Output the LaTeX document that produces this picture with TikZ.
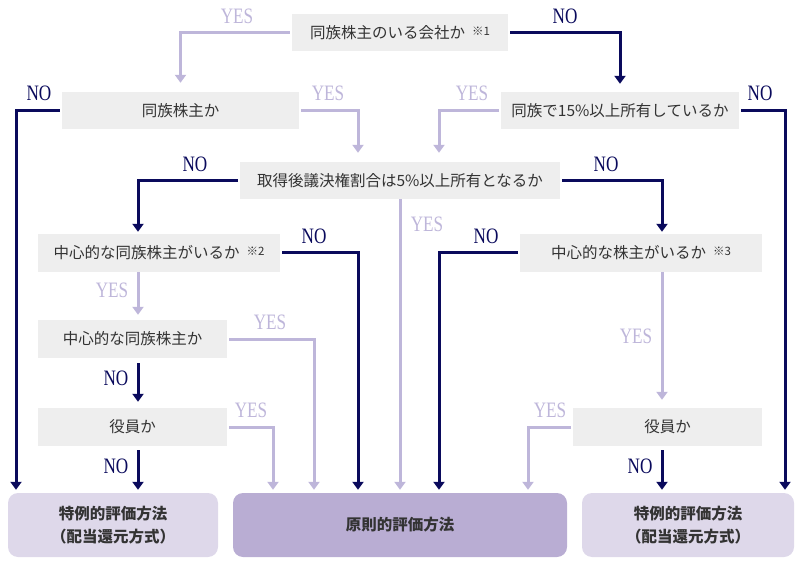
\documentclass[tikz,border=0pt]{standalone}
\usepackage{fontspec}
\usepackage{graphicx}
\setmainfont{Noto Sans CJK JP}
\newfontfamily\lblfont{Liberation Serif}
\usetikzlibrary{arrows.meta}
\definecolor{navy}{RGB}{10,10,92}
\definecolor{lav}{RGB}{190,182,218}
\definecolor{boxgray}{RGB}{238,238,238}
\definecolor{reslight}{RGB}{222,216,234}
\definecolor{resdark}{RGB}{185,173,211}
\definecolor{txt}{RGB}{51,51,51}
\newcommand{\lbltext}[1]{\scalebox{0.78}[1]{\lblfont\fontsize{22}{22}\selectfont #1}}
\tikzset{
  qbox/.style={fill=boxgray, text=txt, font=\fontsize{15.5}{18}\selectfont, inner sep=0pt, minimum height=37pt},
  resbox/.style={rounded corners=10pt, text=txt, font=\fontsize{15.5}{23}\selectfont\bfseries, align=center, minimum height=64pt, inner sep=0pt},
  yesline/.style={draw=lav, line width=3pt, -{Triangle[width=11pt,length=8pt]}},
  noline/.style={draw=navy, line width=3pt, -{Triangle[width=11pt,length=8pt]}},
  yeslbl/.style={text=lav, inner sep=0pt},
  nolbl/.style={text=navy, inner sep=0pt}
}
\newcommand{\kome}[1]{\hspace{7pt}\raisebox{3pt}{\fontsize{11.5}{11.5}\selectfont ※#1}}
\begin{document}
\begin{tikzpicture}[x=1pt,y=-1pt]
\useasboundingbox (0,0) rectangle (806,564);
% columns
\coordinate (cA) at (16,0);
\coordinate (cB) at (138,0);
\coordinate (cD) at (273,0);
\coordinate (cE) at (314,0);
\coordinate (cF) at (358,0);
\coordinate (cH) at (439,0);
\coordinate (cI) at (528,0);
\coordinate (cK) at (662,0);
\coordinate (cL) at (785,0);
% boxes
\node[qbox, minimum width=216pt] (top) at (400,32.5) {同族株主のいる会社か\kome{1}};
\node[qbox, minimum width=237pt] (q1) at (180.5,110.5) {同族株主か};
\node[qbox, minimum width=238pt] (q2) at (620,110.5) {同族で15\%以上所有しているか};
\node[qbox, minimum width=320pt] (q3) at (400,180.5) {取得後議決権割合は5\%以上所有となるか};
\node[qbox, minimum width=242pt, minimum height=38pt] (q4) at (159,253) {中心的な同族株主がいるか\kome{2}};
\node[qbox, minimum width=242pt, minimum height=38pt] (q5) at (641,253) {中心的な株主がいるか\kome{3}};
\node[qbox, minimum width=189pt, minimum height=38pt] (q6) at (132.5,339) {中心的な同族株主か};
\node[qbox, minimum width=189pt, minimum height=38pt] (q7) at (132.5,427) {役員か};
\node[qbox, minimum width=189pt, minimum height=38pt] (q8) at (667.5,427) {役員か};
\node[resbox, fill=reslight, minimum width=210pt] (r1) at (113,525) {特例的評価方法\\（配当還元方式）};
\node[resbox, fill=resdark, minimum width=334pt] (r2) at (400,525) {原則的評価方法};
\node[resbox, fill=reslight, minimum width=212pt] (r3) at (688,525) {特例的評価方法\\（配当還元方式）};
% connectors
\draw[yesline, shorten <=2pt, shorten >=9pt] (top.west) -| (q1.north);
\draw[noline, shorten <=2pt, shorten >=8pt] (top.east) -| (q2.north);
\draw[noline, shorten <=2pt, shorten >=3pt] (q1.west) -| (r1.north -| cA);
\draw[yesline, shorten <=2pt, shorten >=9pt] (q1.east) -| (q3.north -| cF);
\draw[yesline, shorten <=2pt, shorten >=9pt] (q2.west) -| (q3.north -| cH);
\draw[noline, shorten <=2pt, shorten >=3pt] (q2.east) -| (r3.north -| cL);
\draw[noline, shorten <=2pt, shorten >=2pt] (q3.west) -| (q4.north -| cB);
\draw[noline, shorten <=2pt, shorten >=2pt] (q3.east) -| (q5.north -| cK);
\draw[yesline, shorten >=3pt] (q3.south) -- (r2.north);
\draw[yesline, shorten >=5pt] (q4.south -| cB) -- (q6.north -| cB);
\draw[noline, shorten <=2pt, shorten >=3pt] (q4.east) -| (r2.north -| cF);
\draw[noline, shorten <=2pt, shorten >=3pt] (q5.west) -| (r2.north -| cH);
\draw[yesline, shorten >=8pt] (q5.south -| cK) -- (q8.north -| cK);
\draw[yesline, shorten <=2pt, shorten >=3pt] (q6.east) -| (r2.north -| cE);
\draw[noline, shorten <=5pt, shorten >=6pt] (q6.south -| cB) -- (q7.north -| cB);
\draw[yesline, shorten <=2pt, shorten >=3pt] (q7.east) -| (r2.north -| cD);
\draw[noline, shorten <=4pt, shorten >=3pt] (q7.south -| cB) -- (r1.north -| cB);
\draw[yesline, shorten <=2pt, shorten >=3pt] (q8.west) -| (r2.north -| cI);
\draw[noline, shorten <=4pt, shorten >=3pt] (q8.south -| cK) -- (r3.north -| cK);
% labels
\node[yeslbl] (l1) at (237,16) {\lbltext{YES}};
\node[nolbl] (l2) at (565,16) {\lbltext{NO}};
\node[nolbl] (l3) at (39,93) {\lbltext{NO}};
\node[yeslbl] (l4) at (328,93) {\lbltext{YES}};
\node[yeslbl] (l5) at (472,93) {\lbltext{YES}};
\node[nolbl] (l6) at (760,93) {\lbltext{NO}};
\node[nolbl] (l7) at (195,164) {\lbltext{NO}};
\node[nolbl] (l8) at (606,164) {\lbltext{NO}};
\node[yeslbl] (l9) at (427,224) {\lbltext{YES}};
\node[nolbl] (l10) at (314,236) {\lbltext{NO}};
\node[nolbl] (l11) at (486,236) {\lbltext{NO}};
\node[yeslbl] (l12) at (112,290) {\lbltext{YES}};
\node[yeslbl] (l13) at (270,322) {\lbltext{YES}};
\node[nolbl] (l14) at (116,378) {\lbltext{NO}};
\node[yeslbl] (l15) at (251,410) {\lbltext{YES}};
\node[nolbl] (l16) at (116,466) {\lbltext{NO}};
\node[yeslbl] (l17) at (636,336) {\lbltext{YES}};
\node[yeslbl] (l18) at (550,410) {\lbltext{YES}};
\node[nolbl] (l19) at (640,466) {\lbltext{NO}};
\end{tikzpicture}
\end{document}
